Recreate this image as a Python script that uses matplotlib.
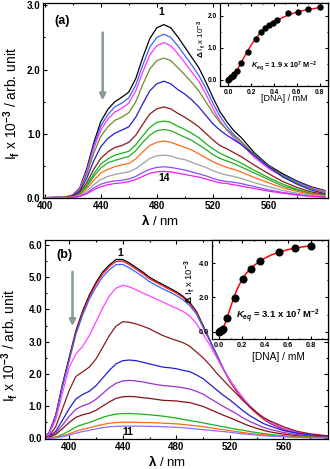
import numpy as np
import matplotlib.pyplot as plt
from matplotlib.ticker import FormatStrFormatter, MultipleLocator

plt.rcParams['font.family'] = ['Liberation Sans', 'DejaVu Sans']
plt.rcParams['font.weight'] = 'bold'
plt.rcParams['mathtext.fontset'] = 'custom'
plt.rcParams['mathtext.rm'] = 'Liberation Sans:bold'
plt.rcParams['mathtext.it'] = 'Liberation Sans:bold:italic'
plt.rcParams['mathtext.bf'] = 'Liberation Sans:bold'
plt.rcParams['mathtext.default'] = 'rm'

##### panel (a): emission spectra, 12 traces (1 .. 14)
wl_a = [400, 415, 420, 425, 430, 435, 440, 445, 450, 455, 460, 465, 470, 475, 480, 485,
        490, 495, 500, 505, 510, 515, 520, 525, 530, 535, 540, 550, 560, 570, 580, 590, 600]
spec_a = [
    [.01, .02, .05, .16, .46, .86, 1.19, 1.38, 1.50, 1.57, 1.65, 1.86, 2.19, 2.48, 2.65, 2.70,
     2.65, 2.51, 2.35, 2.19, 2.03, 1.81, 1.57, 1.35, 1.19, 1.05, .95, .70, .51, .38, .27, .18, .12],
    [.01, .02, .05, .15, .43, .82, 1.12, 1.30, 1.42, 1.48, 1.56, 1.76, 2.07, 2.35, 2.50, 2.55,
     2.50, 2.37, 2.22, 2.07, 1.91, 1.71, 1.48, 1.28, 1.12, .99, .89, .66, .48, .36, .26, .17, .11],
    [.01, .02, .05, .15, .41, .77, 1.06, 1.23, 1.34, 1.40, 1.48, 1.67, 1.96, 2.23, 2.37, 2.42,
     2.37, 2.25, 2.11, 1.96, 1.82, 1.62, 1.40, 1.21, 1.06, .94, .85, .63, .46, .34, .24, .16, .11],
    [.01, .02, .04, .13, .37, .70, .96, 1.11, 1.21, 1.26, 1.33, 1.50, 1.77, 2.01, 2.14, 2.18,
     2.14, 2.03, 1.92, 1.80, 1.67, 1.50, 1.33, 1.18, 1.07, .97, .88, .68, .50, .35, .24, .15, .09],
    [.01, .01, .04, .11, .31, .58, .80, .93, 1.01, 1.06, 1.11, 1.26, 1.47, 1.67, 1.78, 1.82,
     1.78, 1.69, 1.62, 1.53, 1.42, 1.29, 1.16, 1.06, .98, .91, .84, .66, .49, .33, .22, .13, .07],
    [.01, .01, .03, .09, .24, .45, .62, .72, .79, .82, .87, .98, 1.15, 1.31, 1.39, 1.42,
     1.39, 1.32, 1.26, 1.19, 1.11, 1.01, .91, .82, .77, .71, .65, .51, .38, .26, .17, .10, .06],
    [.00, .01, .02, .07, .20, .38, .53, .61, .67, .70, .73, .83, .97, 1.10, 1.18, 1.20,
     1.18, 1.12, 1.07, 1.01, .94, .85, .77, .70, .65, .60, .55, .43, .32, .22, .14, .08, .05],
    [.00, .01, .02, .06, .18, .34, .47, .55, .59, .62, .65, .74, .87, .98, 1.05, 1.07,
     1.05, 1.00, .95, .90, .83, .76, .68, .62, .58, .54, .49, .39, .29, .19, .13, .07, .04],
    [.00, .01, .02, .05, .15, .28, .39, .45, .49, .52, .54, .61, .72, .82, .87, .89,
     .87, .83, .79, .75, .69, .63, .57, .52, .48, .45, .41, .32, .24, .16, .11, .06, .04],
    [.00, .01, .01, .04, .11, .21, .29, .34, .37, .39, .41, .46, .54, .62, .66, .67,
     .66, .62, .60, .56, .52, .48, .43, .39, .36, .34, .31, .24, .18, .12, .08, .05, .03],
    [.00, .00, .01, .03, .08, .16, .22, .25, .27, .28, .30, .34, .40, .45, .48, .49,
     .48, .46, .44, .41, .38, .35, .31, .28, .26, .25, .23, .18, .13, .09, .06, .03, .02],
    [.00, .00, .01, .03, .07, .13, .18, .21, .23, .24, .26, .29, .34, .39, .41, .42,
     .41, .39, .37, .35, .33, .30, .27, .24, .23, .21, .19, .15, .11, .08, .05, .03, .02],
]
col_a = ['black', '#3a62ff', '#ff33ff', '#6b8e23', '#1f1fd0', '#8b1a1a',
         '#14b414', '#2aa82a', '#ff6a1a', '#9aa3a3', '#8a4dff', '#f020f0']

##### panel (a) inset: titration
dna_a = [0.0, 0.01, 0.024, 0.038, 0.053, 0.073, 0.11, 0.17, 0.24, 0.29, 0.325, 0.357,
         0.39, 0.43, 0.52, 0.61, 0.70, 0.80]
dI_a = [0.0, 0.04, 0.08, 0.12, 0.18, 0.29, 0.52, 0.86, 1.27, 1.50, 1.62, 1.70,
        1.77, 1.86, 2.07, 2.12, 2.20, 2.27]
fit_x_a = [0, .02, .04, .06, .08, .10, .12, .15, .18, .21, .24, .27, .30, .34, .38, .42,
           .48, .55, .62, .70, .80]
fit_y_a = [0.0, .05, .12, .21, .32, .45, .59, .78, .97, 1.14, 1.29, 1.42, 1.53, 1.64, 1.74,
           1.83, 1.95, 2.05, 2.13, 2.19, 2.25]

##### panel (b): emission spectra, 11 traces
wl_b = [380, 385, 390, 395, 400, 405, 410, 415, 420, 425, 430, 435, 440, 445, 450, 455, 460,
        465, 470, 475, 480, 485, 490, 495, 500, 505, 510, 515, 520, 525, 530, 535, 540, 545,
        550, 560, 570, 580, 595]
spec_b = [
    [0, .17, .72, 1.67, 2.50, 3.33, 3.94, 4.44, 4.83, 5.16, 5.38, 5.55, 5.55, 5.44, 5.30, 5.16,
     5.00, 4.88, 4.77, 4.66, 4.55, 4.41, 4.22, 3.94, 3.50, 3.05, 2.61, 2.16, 1.78, 1.47, 1.22,
     .97, .78, .61, .47, .28, .17, .11, .06],
    [0, .16, .70, 1.63, 2.46, 3.28, 3.89, 4.39, 4.78, 5.10, 5.33, 5.49, 5.50, 5.39, 5.25, 5.11,
     4.95, 4.84, 4.73, 4.62, 4.51, 4.37, 4.18, 3.91, 3.47, 3.03, 2.59, 2.15, 1.77, 1.46, 1.21,
     .96, .77, .60, .47, .28, .17, .11, .06],
    [0, .15, .68, 1.60, 2.40, 3.22, 3.82, 4.31, 4.69, 5.01, 5.23, 5.39, 5.40, 5.29, 5.16, 5.02,
     4.86, 4.75, 4.64, 4.54, 4.43, 4.30, 4.12, 3.86, 3.45, 3.03, 2.60, 2.17, 1.80, 1.49, 1.24,
     .99, .80, .63, .49, .30, .18, .11, .06],
    [0, .14, .57, 1.40, 2.20, 2.62, 2.85, 3.18, 3.61, 4.04, 4.42, 4.66, 4.75, 4.70, 4.61, 4.51,
     4.42, 4.32, 4.23, 4.13, 4.04, 3.94, 3.80, 3.56, 3.23, 2.90, 2.52, 2.14, 1.81, 1.52, 1.24,
     1.00, .81, .64, .50, .31, .19, .12, .06],
    [0, .07, .36, .91, 1.48, 1.92, 2.06, 2.21, 2.46, 2.82, 3.19, 3.48, 3.62, 3.60, 3.55, 3.48,
     3.40, 3.29, 3.19, 3.11, 3.04, 2.97, 2.86, 2.68, 2.50, 2.28, 2.03, 1.81, 1.59, 1.38, 1.16,
     .98, .80, .65, .54, .36, .22, .14, .07],
    [0, .05, .22, .56, .92, 1.22, 1.36, 1.46, 1.63, 1.87, 2.11, 2.31, 2.41, 2.43, 2.41, 2.36,
     2.31, 2.26, 2.21, 2.19, 2.16, 2.11, 2.07, 1.97, 1.85, 1.68, 1.51, 1.34, 1.19, 1.02, .85,
     .70, .58, .46, .38, .24, .16, .10, .05],
    [0, .04, .16, .41, .68, .90, 1.01, 1.08, 1.21, 1.39, 1.57, 1.71, 1.78, 1.80, 1.78, 1.75,
     1.71, 1.67, 1.64, 1.62, 1.60, 1.57, 1.53, 1.46, 1.37, 1.24, 1.12, .99, .88, .76, .63,
     .52, .43, .34, .28, .18, .12, .07, .04],
    [0, .03, .12, .30, .49, .65, .73, .78, .87, 1.00, 1.13, 1.24, 1.29, 1.30, 1.29, 1.26,
     1.24, 1.21, 1.18, 1.17, 1.16, 1.13, 1.11, 1.05, .99, .90, .81, .72, .64, .55, .46,
     .38, .31, .25, .20, .13, .08, .05, .03],
    [0, .01, .04, .12, .23, .35, .43, .49, .57, .65, .71, .75, .77, .77, .76, .75,
     .73, .71, .69, .66, .63, .59, .55, .52, .48, .44, .40, .36, .32, .28, .25,
     .21, .18, .15, .12, .08, .05, .04, .02],
    [0, .01, .03, .07, .14, .22, .28, .33, .38, .43, .47, .49, .50, .50, .50, .49,
     .49, .48, .47, .46, .45, .43, .41, .39, .36, .33, .30, .27, .24, .21, .18,
     .15, .13, .11, .09, .06, .04, .03, .02],
    [0, .00, .02, .05, .10, .16, .21, .25, .29, .33, .36, .37, .38, .38, .38, .38,
     .37, .37, .36, .35, .34, .33, .31, .29, .27, .25, .23, .21, .19, .16, .14,
     .12, .10, .08, .07, .05, .03, .02, .01],
]
col_b = ['black', '#ff1010', '#3a62ff', '#ff44ff', '#8b1a1a', '#1f1fd0',
         '#9932cc', '#8b1010', '#14b414', '#ff6a1a', '#8a6dff']

##### panel (b) inset: titration
dna_b = [0.0, 0.01, 0.02, 0.035, 0.065, 0.135, 0.21, 0.275, 0.36, 0.52, 0.66, 0.80]
dI_b = [0.0, 0.05, 0.10, 0.16, 0.78, 1.95, 3.06, 3.65, 4.15, 4.64, 4.91, 5.03]
fit_x_b = [0, .02, .04, .06, .08, .10, .12, .14, .17, .20, .23, .26, .30, .35, .40, .46,
           .52, .60, .70, .80]
fit_y_b = [0.0, .10, .30, .65, 1.05, 1.45, 1.85, 2.22, 2.68, 3.05, 3.36, 3.60, 3.85, 4.10,
           4.30, 4.50, 4.64, 4.80, 4.93, 5.03]

ylab_main = r'I$_{f}$ x 10$^{-3}$ / arb. unit'
ylab_ins = r'$\Delta$ I$_{f}$ x 10$^{-3}$'


def style(ax, fs, maj, mnr):
    ax.tick_params(which='both', direction='in', top=True, right=True,
                   labelsize=fs, width=0.8, pad=2)
    ax.tick_params(which='major', length=maj)
    ax.tick_params(which='minor', length=mnr)
    for s in ax.spines.values():
        s.set_linewidth(0.9)


fig = plt.figure(figsize=(3.30, 4.69), dpi=100)

######## panel (a)
ax1 = fig.add_axes([0.1312, 0.5772, 0.8618, 0.417])
for y, c in zip(spec_a, col_a):
    ax1.plot(wl_a, y, color=c, lw=0.9)
ax1.set_xlim(399, 602)
ax1.set_ylim(0, 3.04)
ax1.set_xticks([400, 440, 480, 520, 560])
ax1.set_xticks([420, 460, 500, 540, 580], minor=True)
ax1.yaxis.set_major_locator(MultipleLocator(1.0))
ax1.yaxis.set_minor_locator(MultipleLocator(0.5))
ax1.yaxis.set_major_formatter(FormatStrFormatter('%.1f'))
style(ax1, 7, 3, 1.5)
ax1.set_xlabel(r'$\lambda$ / nm', fontsize=9.5)
ax1.xaxis.set_label_coords(0.41, -0.075)
ax1.set_ylabel(ylab_main, fontsize=10)
ax1.yaxis.set_label_coords(-0.075, 0.485)
ax1.text(0.0675, 0.906, '(a)', transform=ax1.transAxes, fontsize=9,
         ha='center', va='center')
ax1.text(482.9, 2.89, '1', fontsize=7.5, ha='center', va='center')
ax1.text(485, 0.315, '14', fontsize=7.5, ha='center', va='center')
ax1.annotate('', xy=(441.4, 1.48), xytext=(441.4, 2.62),
             arrowprops=dict(arrowstyle='-|>', color='#879999', lw=1.8,
                             mutation_scale=9))

ins1 = fig.add_axes([0.6667, 0.8166, 0.3263, 0.1776])
ins1.plot(fit_x_a, fit_y_a, color='red', lw=1.0, zorder=2)
ins1.plot(dna_a, dI_a, 'o', color='black', ms=3.6, zorder=3)
ins1.set_xlim(-0.073, 0.87)
ins1.set_ylim(-0.19, 2.40)
ins1.xaxis.set_major_locator(MultipleLocator(0.2))
ins1.xaxis.set_minor_locator(MultipleLocator(0.1))
ins1.yaxis.set_major_locator(MultipleLocator(1.0))
ins1.yaxis.set_minor_locator(MultipleLocator(0.5))
ins1.xaxis.set_major_formatter(FormatStrFormatter('%.1f'))
ins1.yaxis.set_major_formatter(FormatStrFormatter('%.1f'))
style(ins1, 4.8, 2, 1)
ins1.set_xlabel('[DNA] / mM', fontsize=6.5)
ins1.xaxis.set_label_coords(0.60, -0.10)
ins1.set_ylabel(ylab_ins, fontsize=5.8)
ins1.yaxis.set_label_coords(-0.11, 0.57)
ins1.text(0.594, 0.23, r'$\mathit{K}_{\mathit{eq}}$ = 1.9 x 10$^{7}$ M$^{-2}$',
          transform=ins1.transAxes, fontsize=5.3, ha='center', va='center')

######## panel (b)
ax2 = fig.add_axes([0.1364, 0.064, 0.8566, 0.4253])
for y, c in zip(spec_b, col_b):
    ax2.plot(wl_b, y, color=c, lw=0.9)
ax2.set_xlim(382, 593)
ax2.set_ylim(-0.02, 6.17)
ax2.set_xticks([400, 440, 480, 520, 560])
ax2.set_xticks([420, 460, 500, 540, 580], minor=True)
ax2.yaxis.set_major_locator(MultipleLocator(1.0))
ax2.yaxis.set_minor_locator(MultipleLocator(0.5))
ax2.yaxis.set_major_formatter(FormatStrFormatter('%.1f'))
style(ax2, 7, 3, 1.5)
ax2.set_xlabel(r'$\lambda$ / nm', fontsize=9.5)
ax2.xaxis.set_label_coords(0.43, -0.075)
ax2.set_ylabel(ylab_main, fontsize=10)
ax2.yaxis.set_label_coords(-0.09, 0.47)
ax2.text(0.067, 0.922, '(b)', transform=ax2.transAxes, fontsize=9,
         ha='center', va='center')
ax2.text(437.9, 5.76, '1', fontsize=7.5, ha='center', va='center')
ax2.text(444, 0.2, '11', fontsize=7.5, ha='center', va='center')
ax2.annotate('', xy=(402.5, 3.40), xytext=(402.5, 5.25),
             arrowprops=dict(arrowstyle='-|>', color='#879999', lw=1.8,
                             mutation_scale=9))

ins2 = fig.add_axes([0.6424, 0.2772, 0.3506, 0.2121])
ins2.plot(fit_x_b, fit_y_b, color='red', lw=1.1, zorder=2)
ins2.plot(dna_b, dI_b, 'o', color='black', ms=4.8, zorder=3)
ins2.set_xlim(-0.064, 0.949)
ins2.set_ylim(-0.43, 5.39)
ins2.xaxis.set_major_locator(MultipleLocator(0.2))
ins2.xaxis.set_minor_locator(MultipleLocator(0.1))
ins2.yaxis.set_major_locator(MultipleLocator(2.0))
ins2.yaxis.set_minor_locator(MultipleLocator(1.0))
ins2.xaxis.set_major_formatter(FormatStrFormatter('%.1f'))
ins2.yaxis.set_major_formatter(FormatStrFormatter('%.1f'))
style(ins2, 5.3, 2, 1)
ins2.set_xlabel('[DNA] / mM', fontsize=7.3)
ins2.xaxis.set_label_coords(0.57, -0.13)
ins2.set_ylabel(ylab_ins, fontsize=6.8)
ins2.yaxis.set_label_coords(-0.13, 0.576)
ins2.text(0.57, 0.23, r'$\mathit{K}_{\mathit{eq}}$ = 3.1 x 10$^{7}$ M$^{-2}$',
          transform=ins2.transAxes, fontsize=6.8, ha='center', va='center')

plt.savefig('out.png', dpi=100)
